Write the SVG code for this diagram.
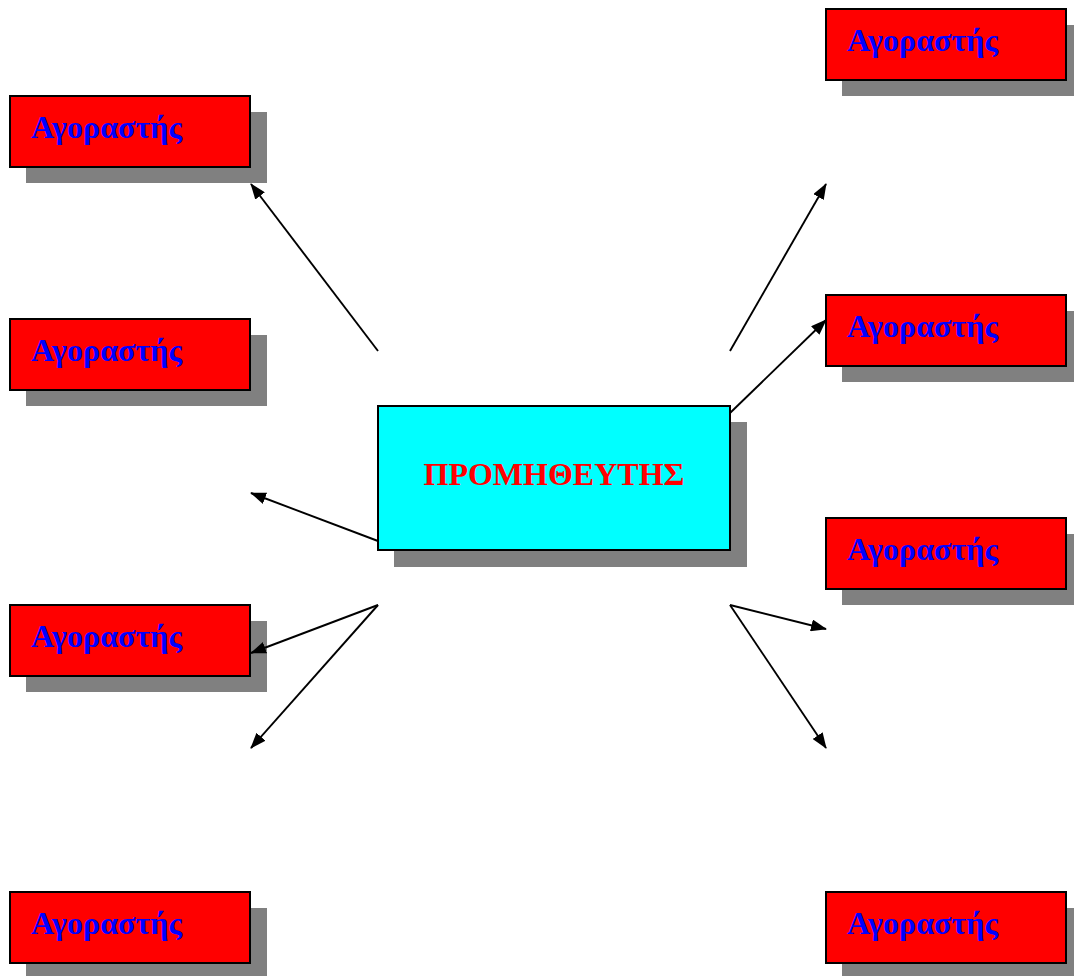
<svg xmlns="http://www.w3.org/2000/svg" width="1074" height="976" viewBox="0 0 1074 976">
  <style>
    .shadow { fill: #808080; }
    .buyer { fill: #ff0000; stroke: #000; stroke-width: 2; }
    .supplier { fill: #00ffff; stroke: #000; stroke-width: 2; }
    .buyer-text { font-family: "Liberation Serif", "Times New Roman", serif; font-weight: bold; font-size: 32px; fill: #0000ff; }
    .supplier-text { font-family: "Liberation Serif", "Times New Roman", serif; font-weight: bold; font-size: 32px; fill: #ff0000; }
    .link { stroke: #000; stroke-width: 1.9; fill: none; marker-end: url(#arrow); }
  </style>
  <defs>
    <marker id="arrow" viewBox="0 0 16 12" refX="15" refY="6" markerWidth="16" markerHeight="12" markerUnits="userSpaceOnUse" orient="auto">
      <path d="M0,0 L16,6 L0,12 Z" fill="#000"/>
    </marker>
  </defs>
  <rect width="1074" height="976" fill="#fff"/>

  <!-- central supplier -->
  <g id="supplier">
    <rect class="shadow" x="394" y="422" width="353" height="145"/>
    <rect class="supplier" x="378" y="406" width="352" height="144"/>
    <text class="supplier-text" x="554" y="485" text-anchor="middle">ΠΡΟΜΗΘΕΥΤΗΣ</text>
  </g>

  <!-- buyers, left column -->
  <g id="buyer-l1">
    <rect class="shadow" x="26" y="112" width="241" height="71"/>
    <rect class="buyer" x="10" y="96" width="240" height="71"/>
    <text class="buyer-text" x="31" y="138">Αγοραστής</text>
  </g>
  <g id="buyer-l2">
    <rect class="shadow" x="26" y="335" width="241" height="71"/>
    <rect class="buyer" x="10" y="319" width="240" height="71"/>
    <text class="buyer-text" x="31" y="361">Αγοραστής</text>
  </g>
  <g id="buyer-l3">
    <rect class="shadow" x="26" y="621" width="241" height="71"/>
    <rect class="buyer" x="10" y="605" width="240" height="71"/>
    <text class="buyer-text" x="31" y="647">Αγοραστής</text>
  </g>
  <g id="buyer-l4">
    <rect class="shadow" x="26" y="908" width="241" height="71"/>
    <rect class="buyer" x="10" y="892" width="240" height="71"/>
    <text class="buyer-text" x="31" y="934">Αγοραστής</text>
  </g>

  <!-- buyers, right column -->
  <g id="buyer-r1">
    <rect class="shadow" x="842" y="25" width="241" height="71"/>
    <rect class="buyer" x="826" y="9" width="240" height="71"/>
    <text class="buyer-text" x="847" y="51">Αγοραστής</text>
  </g>
  <g id="buyer-r2">
    <rect class="shadow" x="842" y="311" width="241" height="71"/>
    <rect class="buyer" x="826" y="295" width="240" height="71"/>
    <text class="buyer-text" x="847" y="337">Αγοραστής</text>
  </g>
  <g id="buyer-r3">
    <rect class="shadow" x="842" y="534" width="241" height="71"/>
    <rect class="buyer" x="826" y="518" width="240" height="71"/>
    <text class="buyer-text" x="847" y="560">Αγοραστής</text>
  </g>
  <g id="buyer-r4">
    <rect class="shadow" x="842" y="908" width="241" height="71"/>
    <rect class="buyer" x="826" y="892" width="240" height="71"/>
    <text class="buyer-text" x="847" y="934">Αγοραστής</text>
  </g>

  <!-- connectors -->
  <g id="connectors">
    <line class="link" x1="378" y1="351" x2="251" y2="184"/>
    <line class="link" x1="378" y1="541" x2="251" y2="493"/>
    <line class="link" x1="378" y1="605" x2="251" y2="653"/>
    <line class="link" x1="378" y1="605" x2="251" y2="748"/>
    <line class="link" x1="730" y1="351" x2="826" y2="184"/>
    <line class="link" x1="730" y1="413" x2="826" y2="320"/>
    <line class="link" x1="730" y1="605" x2="826" y2="629"/>
    <line class="link" x1="730" y1="605" x2="826" y2="748"/>
  </g>
</svg>
